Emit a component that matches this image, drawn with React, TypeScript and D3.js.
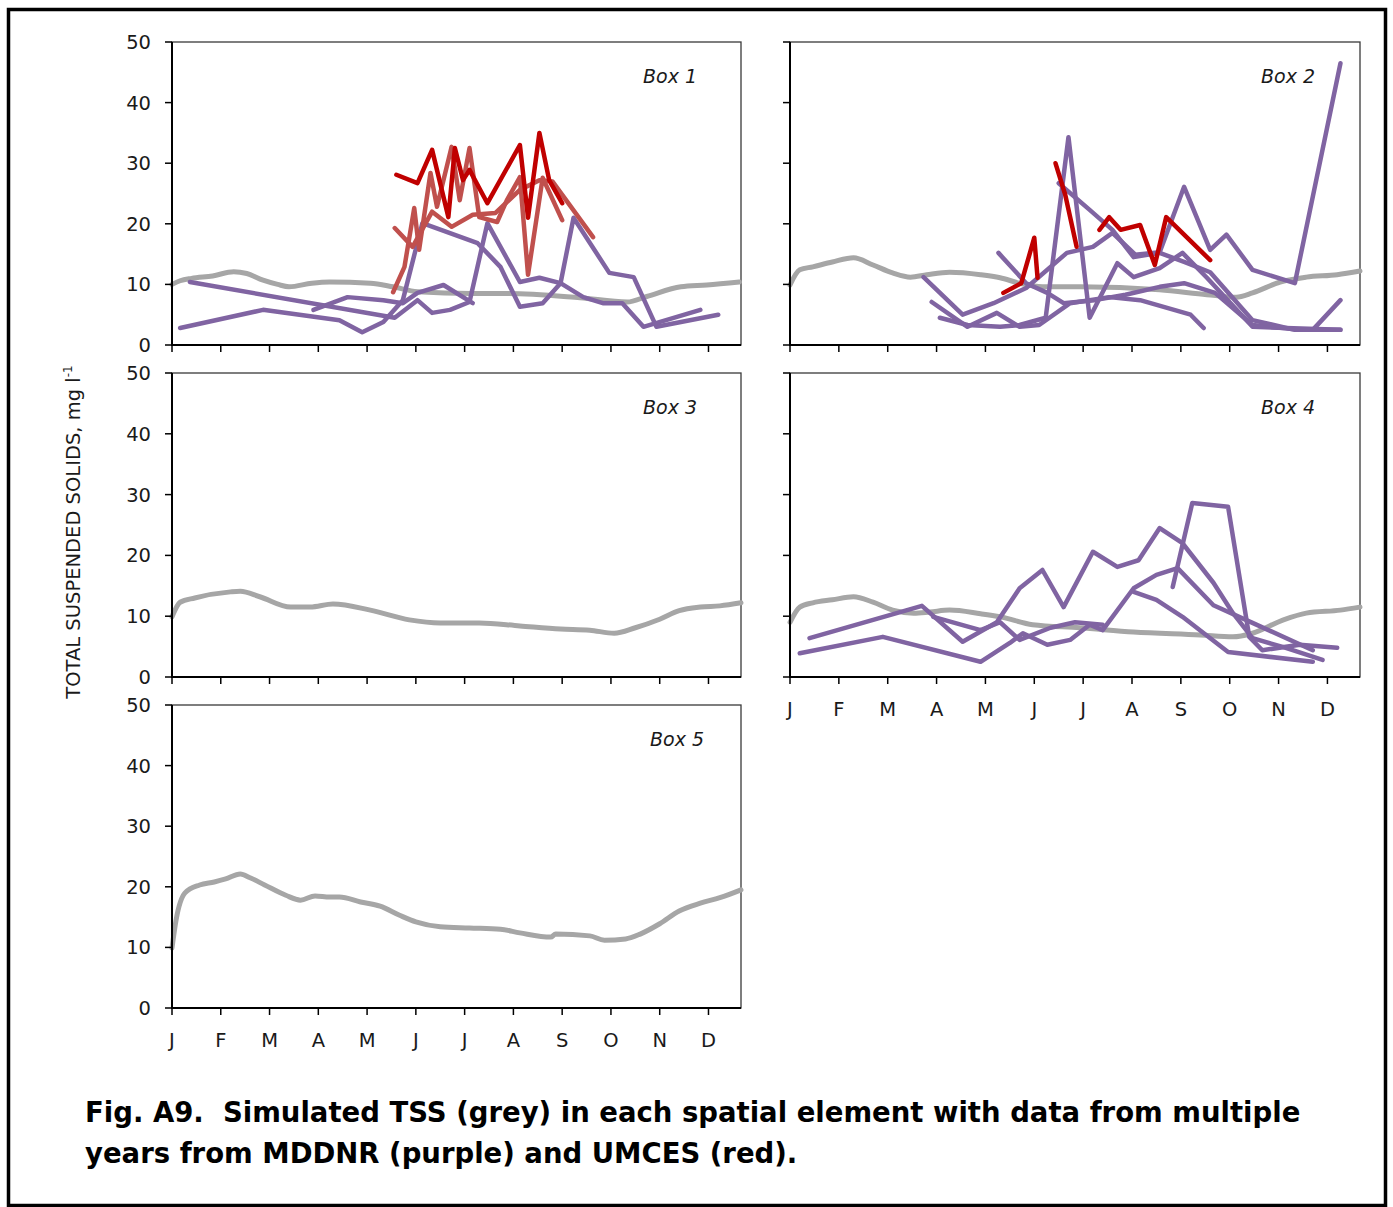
import * as d3 from "d3";

// day-of-year (ticks every 30 days, axis 0..350), TSS mg/l
type Pt = [number, number];

const months = ["J", "F", "M", "A", "M", "J", "J", "A", "S", "O", "N", "D"];
const yTicks = [0, 10, 20, 30, 40, 50];

// ---- Box 1 ----
const box1Sim: Pt[] = [
  [0, 10.0], [5, 10.6], [12, 11.0], [25, 11.4], [38, 12.1], [46, 11.8], [56, 10.7], [65, 10.0],
  [72, 9.6], [86, 10.2], [97, 10.4], [122, 10.2], [136, 9.6], [151, 8.8], [184, 8.5], [207, 8.5],
  [251, 7.8], [280, 7.1], [292, 8.0], [313, 9.6], [329, 9.9], [349, 10.4],
];
const box1Mddnr: Pt[][] = [
  [[5, 2.8], [56, 5.8], [103, 4.1], [117, 2.1], [130, 3.8], [142, 7.4], [154, 20.1], [188, 16.8],
   [202, 12.9], [214, 6.3], [228, 6.9], [239, 10.2], [247, 21.0], [269, 11.9], [284, 11.2], [298, 3.0], [336, 5.0]],
  [[11, 10.4], [137, 4.5], [151, 7.4], [160, 5.3], [171, 5.8], [183, 7.1], [194, 20.1], [214, 10.4],
   [226, 11.1], [239, 10.2], [253, 7.9], [265, 6.9], [277, 6.9], [290, 3.0], [325, 5.8]],
  [[87, 5.8], [108, 7.9], [130, 7.4], [142, 6.9], [151, 8.6], [167, 9.9], [185, 6.9]],
];
const box1UmcesDark: Pt[][] = [
  [[138, 28.1], [151, 26.7], [160, 32.2], [170, 21.1], [174, 32.5], [179, 27.2], [183, 28.9],
   [194, 23.4], [214, 33.0], [219, 21.0], [226, 35.0], [232, 27.2], [240, 23.4]],
];
const box1UmcesLight: Pt[][] = [
  [[136, 8.7], [143, 12.9], [149, 22.6], [152, 15.7], [159, 28.4], [163, 22.8], [172, 32.7], [177, 23.9],
   [183, 32.5], [189, 21.1], [200, 20.3], [206, 23.9], [214, 27.7], [219, 11.6], [228, 27.6], [240, 20.6]],
  [[137, 19.3], [148, 16.2], [160, 22.0], [172, 19.5], [185, 21.5], [199, 21.8], [214, 25.6],
   [226, 27.2], [234, 27.0], [259, 17.8]],
];

// ---- Box 2 ----
const box2Sim: Pt[] = [
  [0, 9.9], [6, 12.4], [14, 12.9], [26, 13.7], [39, 14.4], [51, 13.2], [63, 11.9], [74, 11.2],
  [84, 11.6], [98, 12.0], [117, 11.6], [129, 11.1], [141, 10.2], [155, 9.6], [178, 9.6], [227, 9.1],
  [256, 8.3], [274, 7.9], [284, 8.6], [301, 10.4], [317, 11.2], [336, 11.6], [350, 12.2],
];
const box2Mddnr: Pt[][] = [
  [[82, 11.2], [106, 5.0], [125, 6.9], [145, 9.4], [170, 15.2], [186, 16.2], [198, 18.5], [212, 14.9],
   [227, 15.3], [242, 26.1], [258, 15.7], [268, 18.2], [284, 12.4], [310, 10.2], [338, 46.5]],
  [[92, 4.5], [109, 3.3], [129, 3.0], [141, 3.3], [157, 4.5], [171, 34.3], [184, 4.5], [201, 13.5],
   [211, 11.2], [227, 12.7], [241, 15.2], [256, 11.1], [284, 3.0], [338, 2.5]],
  [[128, 15.2], [145, 10.2], [158, 8.6], [168, 6.9], [187, 7.4], [206, 8.3], [227, 9.6], [242, 10.2],
   [261, 8.6], [284, 3.3], [313, 2.5], [321, 2.5], [338, 7.4]],
  [[87, 7.1], [109, 3.0], [127, 5.3], [141, 3.0], [153, 3.3], [172, 6.9], [196, 7.9], [215, 7.4],
   [246, 5.0], [254, 2.8]],
  [[165, 26.7], [184, 22.3], [198, 19.0], [211, 14.5], [227, 15.2], [242, 13.7], [258, 12.0],
   [284, 4.1], [310, 2.5], [338, 2.5]],
];
const box2UmcesDark: Pt[][] = [
  [[131, 8.6], [142, 10.2], [150, 17.7], [152, 11.1]],
  [[163, 30.0], [169, 24.8], [176, 16.2]],
  [[190, 19.0], [196, 21.1], [203, 19.0], [215, 19.8], [224, 13.2], [231, 21.1], [258, 14.0]],
];

// ---- Box 3 ----
const box3Sim: Pt[] = [
  [0, 9.9], [5, 12.3], [14, 13.0], [36, 14.0], [42, 14.1], [54, 13.2], [73, 11.5], [85, 11.5],
  [99, 12.0], [122, 11.0], [146, 9.4], [165, 8.9], [189, 8.9], [214, 8.4], [239, 7.9], [257, 7.7],
  [272, 7.2], [285, 8.1], [300, 9.5], [312, 10.9], [325, 11.5], [337, 11.7], [350, 12.2],
];

// ---- Box 4 ----
const box4Sim: Pt[] = [
  [0, 9.0], [6, 11.5], [14, 12.2], [26, 12.7], [39, 13.2], [51, 12.3], [63, 11.0], [76, 10.5],
  [86, 10.7], [98, 11.0], [117, 10.4], [129, 9.9], [149, 8.6], [178, 8.1], [211, 7.4], [252, 6.9],
  [272, 6.6], [284, 7.2], [303, 9.4], [317, 10.5], [338, 11.0], [350, 11.5],
];
const box4Mddnr: Pt[][] = [
  [[12, 6.4], [81, 11.7], [106, 5.8], [127, 9.0], [141, 14.6], [155, 17.6], [168, 11.5], [186, 20.6],
   [201, 18.1], [214, 19.2], [227, 24.5], [241, 22.0], [260, 15.5], [272, 10.5], [284, 6.4], [303, 4.9], [327, 2.8]],
  [[6, 3.9], [57, 6.6], [117, 2.5], [135, 5.6], [143, 7.2], [158, 5.3], [172, 6.1], [184, 8.6],
   [192, 7.7], [211, 14.6], [225, 16.8], [238, 17.9], [260, 11.8], [284, 8.9], [321, 4.4]],
  [[88, 9.9], [117, 7.7], [129, 9.0], [141, 6.1], [160, 8.1], [175, 9.0], [192, 8.6]],
  [[235, 14.8], [247, 28.6], [269, 28.0], [282, 6.6], [290, 4.4], [313, 5.3], [336, 4.8]],
  [[211, 14.0], [225, 12.7], [241, 9.9], [269, 4.1], [321, 2.5]],
];

// ---- Box 5 ----
const box5Sim: Pt[] = [
  [0, 9.9], [2.5, 14.5], [8, 19.0], [17, 20.3], [26, 20.8], [33, 21.3], [42, 22.1], [48, 21.5],
  [57, 20.3], [70, 18.6], [79, 17.8], [88, 18.5], [97, 18.3], [103, 18.3], [116, 17.5], [128, 16.8],
  [140, 15.3], [150, 14.2], [165, 13.4], [183, 13.2], [202, 13.0], [214, 12.4], [233, 11.7], [236, 12.2],
  [257, 11.9], [266, 11.2], [279, 11.4], [288, 12.2], [300, 13.9], [312, 16.0], [325, 17.3], [337, 18.2], [350, 19.5],
];

const GREY = "#a6a6a6";
const PURPLE = "#8064a2";
const DARKRED = "#c00000";
const LIGHTRED = "#c0504d";
const FONT = "'DejaVu Sans', sans-serif";

type Panel = {
  label: string;
  x0: number;
  y0: number;
  w: number;
  h: number;
  labelRight: number;
  sim: Pt[];
  purple: Pt[][];
  dark: Pt[][];
  light: Pt[][];
  yLabels: boolean;
  xLabels: boolean;
};

const panels: Panel[] = [
  { label: "Box 1", x0: 172, y0: 42, w: 569, h: 303, labelRight: 697, sim: box1Sim, purple: box1Mddnr, dark: box1UmcesDark, light: box1UmcesLight, yLabels: true, xLabels: false },
  { label: "Box 2", x0: 790, y0: 42, w: 570, h: 303, labelRight: 1315, sim: box2Sim, purple: box2Mddnr, dark: box2UmcesDark, light: [], yLabels: false, xLabels: false },
  { label: "Box 3", x0: 172, y0: 373, w: 569, h: 304, labelRight: 697, sim: box3Sim, purple: [], dark: [], light: [], yLabels: true, xLabels: false },
  { label: "Box 4", x0: 790, y0: 373, w: 570, h: 304, labelRight: 1315, sim: box4Sim, purple: box4Mddnr, dark: [], light: [], yLabels: false, xLabels: true },
  { label: "Box 5", x0: 172, y0: 705, w: 569, h: 303, labelRight: 704, sim: box5Sim, purple: [], dark: [], light: [], yLabels: true, xLabels: true },
];

function PanelChart({ p }: { p: Panel }) {
  const x = d3.scaleLinear().domain([0, 350]).range([p.x0, p.x0 + p.w]);
  const y = d3.scaleLinear().domain([0, 50]).range([p.y0 + p.h, p.y0]);
  const line = d3.line<Pt>().x(d => x(d[0])).y(d => y(d[1]));
  const smooth = d3.line<Pt>().x(d => x(d[0])).y(d => y(d[1])).curve(d3.curveMonotoneX);
  const xTicks = d3.range(0, 331, 30);
  const bottom = p.y0 + p.h;

  return (
    <g>
      <rect x={p.x0} y={p.y0} width={p.w} height={p.h} fill="none" stroke="#3a3a3a" strokeWidth={1.3} />
      <path d={smooth(p.sim) ?? ""} fill="none" stroke={GREY} strokeWidth={5} strokeLinejoin="round" strokeLinecap="round" />
      {p.purple.map((s, i) => (
        <path key={"p" + i} d={line(s) ?? ""} fill="none" stroke={PURPLE} strokeWidth={4.5} strokeLinejoin="round" strokeLinecap="round" />
      ))}
      {p.light.map((s, i) => (
        <path key={"l" + i} d={line(s) ?? ""} fill="none" stroke={LIGHTRED} strokeWidth={4.5} strokeLinejoin="round" strokeLinecap="round" />
      ))}
      {p.dark.map((s, i) => (
        <path key={"d" + i} d={line(s) ?? ""} fill="none" stroke={DARKRED} strokeWidth={4.5} strokeLinejoin="round" strokeLinecap="round" />
      ))}
      {/* axes */}
      <line x1={p.x0} x2={p.x0} y1={p.y0} y2={bottom} stroke="#000" strokeWidth={2} />
      <line x1={p.x0 - 1} x2={p.x0 + p.w} y1={bottom} y2={bottom} stroke="#000" strokeWidth={2} />
      {yTicks.map(t => (
        <g key={"yt" + t}>
          <line x1={p.x0 - 7} x2={p.x0} y1={y(t)} y2={y(t)} stroke="#000" strokeWidth={1.5} />
          {p.yLabels && (
            <text x={p.x0 - 21} y={y(t)} dy="0.36em" textAnchor="end" fontFamily={FONT} fontSize={19.5} fill="#1a1a1a">
              {t}
            </text>
          )}
        </g>
      ))}
      {xTicks.map((t, i) => (
        <g key={"xt" + t}>
          <line x1={x(t)} x2={x(t)} y1={bottom} y2={bottom + 7} stroke="#000" strokeWidth={1.5} />
          {p.xLabels && (
            <text x={x(t)} y={bottom + 39} textAnchor="middle" fontFamily={FONT} fontSize={19.5} fill="#1a1a1a">
              {months[i]}
            </text>
          )}
        </g>
      ))}
      <text x={p.labelRight} y={p.y0 + 41} textAnchor="end" fontFamily={FONT} fontStyle="italic" fontSize={19} fill="#1a1a1a">
        {p.label}
      </text>
    </g>
  );
}

export default function App() {
  return (
    <svg width={1393} height={1207} style={{ position: "absolute", left: 0, top: 0, background: "#fff" }}>
      <rect x={0} y={0} width={1393} height={1207} fill="#fff" />
      <rect x={8.5} y={9.5} width={1377} height={1196} fill="none" stroke="#000" strokeWidth={3.5} />
      {panels.map(p => (
        <PanelChart key={p.label} p={p} />
      ))}
      <text transform="translate(80,532) rotate(-90)" textAnchor="middle" fontFamily={FONT} fontSize={19.5} fill="#1a1a1a">
        TOTAL SUSPENDED SOLIDS, mg l
        <tspan fontSize={12} dy={-8}>-1</tspan>
      </text>
      <text x={85} y={1122} fontFamily={FONT} fontWeight="bold" fontSize={27.5} fill="#000">
        Fig. A9.{"\u00a0 "}Simulated TSS (grey) in each spatial element with data from multiple
      </text>
      <text x={85} y={1163} fontFamily={FONT} fontWeight="bold" fontSize={27.5} fill="#000">
        years from MDDNR (purple) and UMCES (red).
      </text>
    </svg>
  );
}
